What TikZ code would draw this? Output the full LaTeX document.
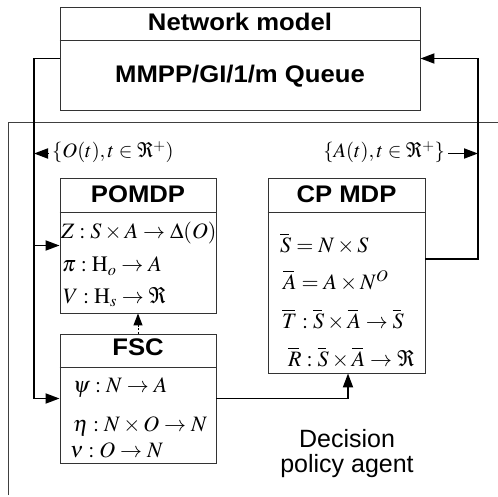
\documentclass[tikz,border=0pt]{standalone}
\usepackage{mathptmx}
\usepackage[no-math]{fontspec}
\setmainfont{Liberation Sans}
\newfontfamily\titlefont[FakeStretch=1.07]{Liberation Sans}
\usetikzlibrary{arrows.meta}
\newcommand{\obar}[1]{\overline{#1\mkern-2mu}\mkern2mu}
\tikzset{
  box/.style={draw=black!80, line width=0.9pt, inner sep=0pt},
  ttl/.style={font=\titlefont\bfseries\fontsize{24}{28}\selectfont, inner sep=0pt, anchor=base},
  mth/.style={font=\fontsize{22}{24}\selectfont, inner sep=0pt, anchor=base west, text height=14pt, text depth=5pt},
  conn/.style={line width=1.8pt, black},
  tip/.style={-{Triangle[length=14pt,width=10pt]}},
  smalltip/.style={-{Triangle[length=12pt,width=9pt]}},
  frameline/.style={line width=1pt, black!75},
}
\begin{document}
\begin{tikzpicture}[x=1pt,y=-1pt]
\useasboundingbox (0,0) rectangle (498,497);
% outer frame of the agent
\draw[frameline] (8,495) -- (8,123) -- (498,123);
% network model
\node[box, minimum width=360pt, minimum height=103pt] (net) at (240,58.5) {};
\draw[box] (net.west |- 0,40) -- (net.east |- 0,40);
\node[ttl] (nett) at (240,31) {Network model};
\node[ttl] (queue) at (240,83) {MMPP/GI/1/m Queue};
% POMDP
\node[box, minimum width=156pt, minimum height=135pt] (pomdp) at (138,245.5) {};
\draw[box] (pomdp.west |- 0,212) -- (pomdp.east |- 0,212);
\node[ttl] (pomdpt) at (138,203) {POMDP};
\node[mth] (z) at (61,239) {$Z:S\times A\rightarrow\Delta(O)$};
\node[mth] (pi) at (62,272) {$\pi:\mathrm{H}_o\rightarrow A$};
\node[mth] (v) at (63,303) {$V:\mathrm{H}_s\rightarrow\Re$};
% FSC
\node[box, minimum width=156pt, minimum height=129pt] (fsc) at (138,398.5) {};
\draw[box] (fsc.west |- 0,367) -- (fsc.east |- 0,367);
\node[ttl] (fsct) at (138,355) {FSC};
\node[mth] (psi) at (73,392) {$\psi:N\rightarrow A$};
\node[mth] (eta) at (73,431) {$\eta:N\times O\rightarrow N$};
\node[mth] (nu) at (70,457) {$\nu:O\rightarrow N$};
% CP MDP
\node[box, minimum width=157pt, minimum height=195pt] (cp) at (346.5,275.5) {};
\draw[box] (cp.west |- 0,212) -- (cp.east |- 0,212);
\node[ttl] (cpt) at (346.5,203) {CP MDP};
\node[mth] (sb) at (280,252) {$\obar{S}=N\times S$};
\node[mth] (ab) at (283,289) {$\obar{A}=A\times N^{O}$};
\node[mth] (tb) at (282,328) {$\obar{T}:\obar{S}\times\obar{A}\rightarrow\obar{S}$};
\node[mth] (rb) at (288,366) {$\obar{R}:\obar{S}\times\obar{A}\rightarrow\Re$};
% agent caption
\node[font=\fontsize{25}{25}\selectfont, align=center, inner sep=0pt] (dpa) at (347,454) {Decision\\policy agent};
% connectors
\coordinate (lx) at (34,0);
\coordinate (rx) at (478,0);
\draw[conn, tip] (net.west) -| (lx |- fsc.west) -- (fsc.west);
\draw[conn, tip] (lx |- pomdp.west) -- (pomdp.west);
\draw[conn, tip] ([yshift=16.5pt]cp.east) -| (rx |- net.east) -- (net.east);
\draw[conn, tip] (fsc.east) -| ([xshift=1.5pt]cp.south);
\draw[line width=1pt, dash pattern=on 2pt off 1.5pt, smalltip] (fsc.north) -- (pomdp.south);
% signal labels
\node[mth, font=\fontsize{20.5}{24}\selectfont] (olab) at (52,158) {$\{O(t), t\in\Re^{+})$};
\node[mth, font=\fontsize{20.5}{24}\selectfont, anchor=base east] (alab) at (445,158) {$\{A(t),t\in\Re^{+}\}$};
\draw[conn, tip] ([xshift=-4pt]olab.west) -- (lx |- olab.west);
\draw[conn, tip] ([xshift=3pt]alab.east) -- (rx |- alab.east);
\end{tikzpicture}
\end{document}
